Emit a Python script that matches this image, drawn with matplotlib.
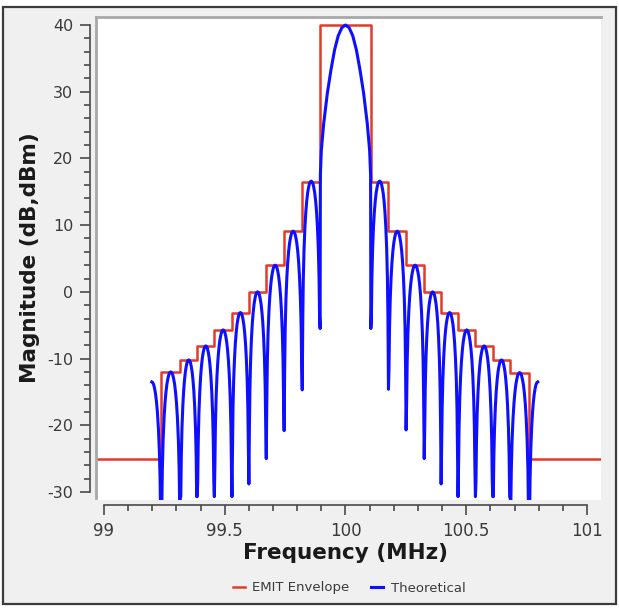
import matplotlib
matplotlib.use('Agg')
import matplotlib.pyplot as plt
from matplotlib.lines import Line2D
from matplotlib.patches import Rectangle
from matplotlib.ticker import MultipleLocator
import numpy as np

plt.rcParams.update({
    'font.family': 'DejaVu Sans',
    'axes.unicode_minus': False,
})

# EMIT envelope (red step curve): step start frequencies and level held until next step
env_freq = [98.9, 99.237, 99.316, 99.386, 99.457, 99.530, 99.600, 99.672, 99.746, 99.821, 99.895,
            100.105, 100.178, 100.251, 100.326, 100.396, 100.466, 100.538, 100.610, 100.682, 100.760, 101.1]
env_level = [-25, -12, -10.2, -8.1, -5.7, -3.1, 0, 4.0, 9.1, 16.5, 40,
             16.5, 9.1, 4.0, 0, -3.1, -5.7, -8.1, -10.2, -12.1, -25, -25]

# Theoretical spectrum (blue): null positions, depth reached at each null, lobe peaks
theo_nulls = [99.237, 99.316, 99.386, 99.457, 99.530, 99.600, 99.672, 99.746, 99.821, 99.895,
              100.105, 100.178, 100.251, 100.326, 100.396, 100.466, 100.538, 100.610, 100.682, 100.760]
theo_null_depth = [-30.7, -30.7, -30.7, -30.7, -30.7, -28.8, -25.0, -20.8, -14.7, -5.5,
                   -5.5, -14.6, -20.7, -25.0, -28.8, -30.7, -30.7, -30.7, -30.7, -30.7]
theo_peaks = [-13.5, -12.0, -10.2, -8.1, -5.7, -3.1, 0.0, 4.0, 9.1, 16.6,
              40.0,
              16.6, 9.1, 4.0, 0.0, -3.1, -5.7, -8.1, -10.2, -12.1, -13.5]
theo_start, theo_end = 99.198, 100.796
# main lobe (offset from 100 MHz, dB)
main_off = [-0.104, -0.100, -0.090, -0.075, -0.060, -0.045, -0.030, -0.015, 0.0,
            0.015, 0.030, 0.045, 0.060, 0.075, 0.090, 0.100, 0.104]
main_db = [17.5, 21.2, 25.3, 29.8, 33.3, 36.3, 38.4, 39.6, 40.0,
           39.6, 38.4, 36.3, 33.3, 29.8, 25.3, 21.2, 17.5]
# side lobe shape: position across lobe (0..1) and dB below lobe peak
lobe_u = [0.03, 0.06, 0.10, 0.15, 0.20, 0.25, 0.30, 0.35, 0.40, 0.45, 0.50,
          0.55, 0.60, 0.65, 0.70, 0.75, 0.80, 0.85, 0.90, 0.94, 0.97]
lobe_db = [-20.5, -14.5, -10.2, -6.9, -4.6, -3.0, -1.8, -1.0, -0.4, -0.1, 0.0,
           -0.1, -0.4, -1.0, -1.8, -3.0, -4.6, -6.9, -10.2, -14.5, -20.5]

# assemble blue curve
tf, tv = [], []
bounds = [2 * theo_start - theo_nulls[0]] + theo_nulls + [2 * theo_end - theo_nulls[-1]]
for i, pk in enumerate(theo_peaks):
    a, b = bounds[i], bounds[i + 1]
    if pk == 40.0:
        tf += [100 + o for o in main_off]
        tv += main_db
    else:
        for u, d in zip(lobe_u, lobe_db):
            f = a + u * (b - a)
            if theo_start - 1e-9 <= f <= theo_end + 1e-9 or (i > 0 and i < len(theo_peaks) - 1):
                tf.append(f)
                tv.append(pk + d)
    if i < len(theo_nulls):
        tf.append(theo_nulls[i])
        tv.append(theo_null_depth[i])

fig = plt.figure(figsize=(6.19, 6.11), dpi=100)
fig.patch.set_facecolor('white')
fig.patches.append(Rectangle((3 / 619, 1 - 604 / 611), 613 / 619, 597 / 611,
                             transform=fig.transFigure, facecolor='#f0f0f0',
                             edgecolor='#3c3c3c', linewidth=1.6, zorder=-10))

ax = fig.add_axes([96 / 619, 1 - 500 / 611, 505 / 619, 483 / 611])
ax.set_facecolor('white')
ax.plot(env_freq, env_level, drawstyle='steps-post', color='#e33b2b', linewidth=1.8,
        label='EMIT Envelope')
ax.plot(tf, tv, color='#0f0fff', linewidth=2.2, label='Theoretical')

ax.set_xlim(98.967, 101.058)
ax.set_ylim(-31.2, 41.2)

for s in ['top', 'right']:
    ax.spines[s].set_visible(False)
ax.spines['left'].set_position(('outward', 4.3))
ax.spines['bottom'].set_position(('outward', 3.6))
ax.spines['left'].set_bounds(-30, 40)
ax.spines['bottom'].set_bounds(99, 101)
for s in ['left', 'bottom']:
    ax.spines[s].set_color('#4a4a4a')
    ax.spines[s].set_linewidth(1.2)

# gray inner frame of the plot area
ax.add_line(Line2D([0, 0], [0.005, 1], transform=ax.transAxes, color='#a8a8a8',
                   linewidth=2.0, clip_on=False))
ax.add_line(Line2D([0, 1], [1, 1], transform=ax.transAxes, color='#a8a8a8',
                   linewidth=2.0, clip_on=False))

ax.set_xticks([99, 99.5, 100, 100.5, 101])
ax.set_xticklabels(['99', '99.5', '100', '100.5', '101'])
ax.xaxis.set_minor_locator(MultipleLocator(0.1))
ax.set_yticks([-30, -20, -10, 0, 10, 20, 30, 40])
ax.yaxis.set_minor_locator(MultipleLocator(2))
ax.tick_params(which='major', direction='out', length=7, width=1.2, color='#4a4a4a',
               labelcolor='#3a3a3a')
ax.tick_params(which='minor', direction='out', length=4, width=1.2, color='#4a4a4a')
ax.tick_params(axis='x', labelsize=12, pad=5)
ax.tick_params(axis='y', labelsize=11.5, pad=5)

fig.text(345 / 619, 1 - 553 / 611, 'Frequency (MHz)', ha='center', va='center',
         fontsize=15.5, fontweight='bold', color='#1a1a1a')
fig.text(30 / 619, 1 - 258 / 611, 'Magnitude (dB,dBm)', ha='center', va='center',
         rotation=90, fontsize=15.5, fontweight='bold', color='#1a1a1a')

fig.legend(loc='center', bbox_to_anchor=(349 / 619, 1 - 588 / 611), ncol=2, frameon=False,
           fontsize=9.5, handlelength=0.9, handletextpad=0.6, columnspacing=1.6,
           labelcolor='#3a3a3a')

fig.savefig('out.png', dpi=100)
